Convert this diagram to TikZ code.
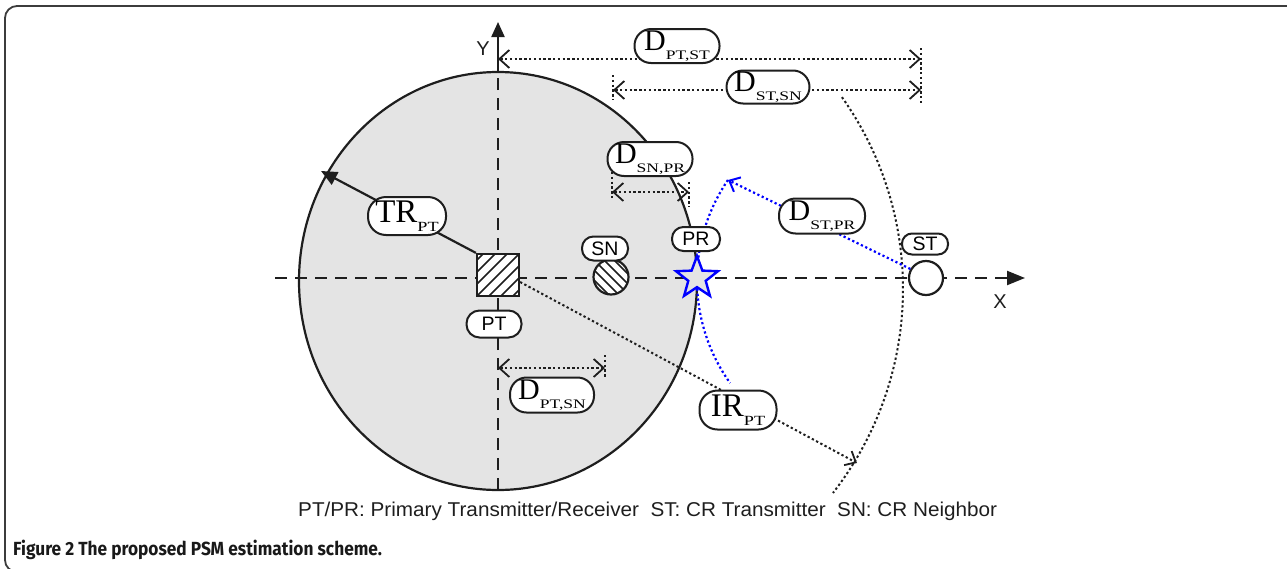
\documentclass[tikz,border=0pt]{standalone}
\usepackage{fontspec}
\setmainfont{Liberation Serif}
\setsansfont{Liberation Sans}
\newfontfamily\capfont{Fira Sans}
\usetikzlibrary{arrows.meta,shapes.geometric}
\definecolor{bg}{RGB}{228,228,228}
\definecolor{ln}{RGB}{30,30,30}
\definecolor{frame}{RGB}{60,60,60}
\newcommand\dlab[2]{\fontsize{30}{30}\selectfont #1\raisebox{-8.5pt}{\scalebox{1.35}[1]{\fontsize{13}{13}\selectfont #2}}}
\newcommand\blab[2]{\fontsize{33}{33}\selectfont #1\raisebox{-9pt}{\scalebox{1.3}[1]{\fontsize{14}{14}\selectfont #2}}}
\begin{document}
\begin{tikzpicture}[x=1pt,y=-1pt,
  dotline/.style={draw=ln, line width=2pt, dash pattern=on 2.3pt off 2.5pt},
  bluedot/.style={draw=blue, line width=2.2pt, dash pattern=on 2.2pt off 2.6pt},
  barbtip/.tip={Straight Barb[length=10pt,width=18pt,line width=1.8pt]},
  axisline/.style={draw=ln, line width=2.2pt, dash pattern=on 12pt off 8pt},
  lbl/.style={draw=ln, line width=2pt, fill=white, inner sep=0pt},
  dbox/.style={lbl, minimum width=85pt, minimum height=34pt, rounded corners=16.5pt},
  sbox/.style={lbl, minimum width=46pt, minimum height=24pt, rounded corners=11.5pt, font=\sffamily\fontsize{19.5}{19.5}\selectfont},
  axlab/.style={font=\sffamily\fontsize{20}{20}\selectfont, text=ln, inner sep=0pt}
]
\useasboundingbox (0,0) rectangle (1287,568);
% frame
\begin{scope}
\clip (0,0) rectangle (1287,568);
\draw[frame, line width=1.8pt, rounded corners=12pt] (5,6) rectangle (1320,572);
\end{scope}
% transmission range disc
\draw[line width=2.2pt, draw=ln, fill=bg] (498,281) ellipse [x radius=199, y radius=209];
% axes
\coordinate (xs) at (275,278);
\coordinate (xe) at (1025,278);
\coordinate (yb) at (498,490);
\coordinate (ym) at (498,72);
\coordinate (yt) at (498,22);
\draw[axisline] (xs) -- ([xshift=-14pt]xe);
\draw[draw=ln, line width=2.2pt, -{Triangle[length=18pt,width=14pt]}] ([xshift=-16pt]xe) -- (xe);
\draw[axisline] (yb) -- (ym);
\draw[draw=ln, line width=2.2pt, -{Triangle[length=15pt,width=13pt]}] (ym) -- (yt);
\node[axlab] (Ylab) at (483,49) {Y};
\node[axlab] (Xlab) at (1000,302) {X};
% IR arc (dotted)
\coordinate (irc) at (571,289);
\draw[dotline] (irc) ++(-35.3:332) arc[start angle=-35.3, end angle=37.9, radius=332];
% blue arc around ST
\coordinate (stc) at (874,280);
\draw[bluedot] (stc) ++(-145.6:177) arc[start angle=-145.6, end angle=-215.6, radius=177];
% nodes
\node[draw=ln, line width=2.2pt, fill=white, minimum size=42pt, inner sep=0pt,
  path picture={\foreach \k in {-60,-48,...,60} \draw[ln, line width=1.6pt] ([shift={(\k-40,40)}]path picture bounding box.center) -- ++(80,-80);}]
  (PT) at (498,275) {};
\node[circle, draw=ln, line width=2.2pt, fill=white, minimum size=35pt, inner sep=0pt,
  path picture={\foreach \k in {-50,-40,...,50} \draw[ln, line width=1.6pt] ([shift={(\k-40,-40)}]path picture bounding box.center) -- ++(80,80);}]
  (SN) at (611,277) {};
\node[circle, draw=ln, line width=2.2pt, fill=white, minimum size=34pt, inner sep=0pt] (ST) at (926,278) {};
% coordinates for connectors
\coordinate (trtip) at (321,171);
\coordinate (irtip) at (857,463);
\coordinate (bluetip) at (728,180);
% TR arrow
\draw[draw=ln, line width=2.2pt, -{Triangle[length=16pt,width=14pt]}] (PT.north west) -- (trtip);
% IR arrow
\draw[dotline, -{Straight Barb[length=9pt,width=16pt,line width=1.8pt]}] ([yshift=-7pt]PT.east) -- (irtip);
% ST -> PR distance (blue)
\draw[bluedot, -{Straight Barb[length=9pt,width=16pt,line width=2pt]}] (ST.150) -- (bluetip);
% star PR
\node[star, star points=5, star point ratio=2.4, minimum size=44pt, inner sep=0pt, draw=blue, line width=2.4pt, fill=bg] (PR) at (697,278) {};
% distance dimension lines
\coordinate (a1) at (498,59);
\coordinate (a2) at (921,59);
\draw[dotline, barbtip-barbtip] (a1) -- (a2);
\coordinate (b1) at (613,90);
\coordinate (b2) at (921,90);
\draw[dotline, barbtip-barbtip] (b1) -- (b2);
\coordinate (t1) at (921,48); \coordinate (t2) at (921,105);
\draw[dotline] (t1) -- (t2);
\coordinate (t3) at (613,75); \coordinate (t4) at (613,100);
\draw[dotline] (t3) -- (t4);
\coordinate (c1) at (612,192);
\coordinate (c2) at (689,192);
\draw[dotline, barbtip-barbtip] (c1) -- (c2);
\coordinate (t5) at (612,172); \coordinate (t6) at (612,199);
\draw[dotline] (t5) -- (t6);
\coordinate (t7) at (689,182); \coordinate (t8) at (689,207);
\draw[dotline] (t7) -- (t8);
\coordinate (d1) at (498,368);
\coordinate (d2) at (605,368);
\draw[dotline, barbtip-barbtip] (d1) -- (d2);
\coordinate (t9) at (605,355); \coordinate (t10) at (605,378);
\draw[dotline] (t9) -- (t10);
% label boxes
\node[dbox] (LptST) at (677,46) {\dlab{D}{PT,ST}};
\node[dbox, minimum width=83pt, minimum height=33pt] (LstSN) at (768,87) {\dlab{D}{ST,SN}};
\node[dbox] (LsnPR) at (650,159) {\dlab{D}{SN,PR}};
\node[dbox, minimum width=86pt, minimum height=35pt] (LstPR) at (822,216) {\dlab{D}{ST,PR}};
\node[dbox, minimum width=84pt, minimum height=35pt] (LptSN) at (552,395) {\dlab{D}{PT,SN}};
\node[dbox, minimum width=78pt, minimum height=38pt, rounded corners=18pt] (LTR) at (407,216) {\blab{TR}{PT}};
\node[dbox, minimum width=77pt, minimum height=39pt, rounded corners=18pt] (LIR) at (738,410) {\blab{IR}{PT}};
\node[sbox] (Lsn) at (605,248.5) {SN};
\node[sbox, minimum width=48pt] (Lpr) at (696,239) {PR};
\node[sbox, minimum height=21pt, rounded corners=10pt] (Lst) at (925,244) {ST};
\node[sbox, minimum width=55pt, minimum height=27pt, rounded corners=13pt] (Lpt) at (494,324) {PT};
% legend and caption
\node[anchor=base west, inner sep=0pt, text=ln, font=\sffamily\fontsize{20}{20}\selectfont] (legend) at (298,516)
  {\scalebox{1.035}[1]{PT/PR: Primary Transmitter/Receiver\ \ ST: CR Transmitter\ \ SN: CR Neighbor}};
\node[anchor=base west, inner sep=0pt, text=black!90, font=\capfont\bfseries\fontsize{19}{19}\selectfont] (caption) at (13,555)
  {\scalebox{0.91}[1]{Figure 2 The proposed PSM estimation scheme.}};
\end{tikzpicture}
\end{document}
